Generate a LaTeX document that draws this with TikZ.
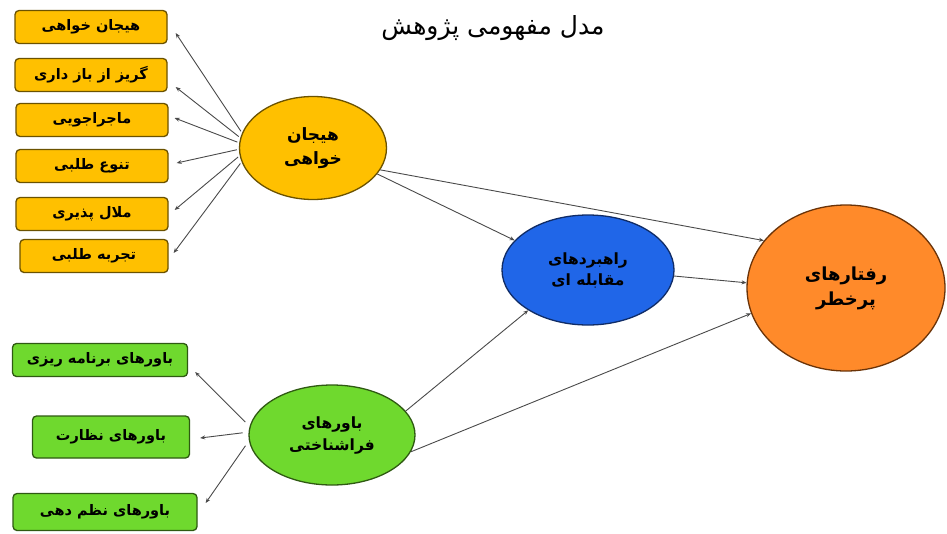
\documentclass[tikz,border=0pt]{standalone}
\usepackage{fontspec}
\TeXXeTstate=1
\newfontfamily\fa[Script=Arabic]{DejaVu Sans}
\usetikzlibrary{arrows.meta,shapes.geometric}
\definecolor{ybox}{HTML}{FFC000}
\definecolor{yline}{HTML}{6B5200}
\definecolor{gfill}{HTML}{6FD92E}
\definecolor{gline}{HTML}{2F5A12}
\definecolor{bfill}{HTML}{2066E8}
\definecolor{bline}{HTML}{102C66}
\definecolor{ofill}{HTML}{FF8A2A}
\definecolor{oline}{HTML}{6A3308}
\definecolor{conn}{HTML}{4A4A4A}
\tikzset{
  ybx/.style={draw=yline, line width=1.3pt, fill=ybox, rounded corners=4pt, minimum width=152pt, minimum height=33pt, inner sep=0pt, font=\fa\bfseries\fontsize{14.5}{16}\selectfont},
  gbx/.style={ybx, draw=gline, fill=gfill},
  ell/.style={ellipse, draw, line width=1.3pt, inner sep=0pt, align=center},
  cn/.style={draw=conn, line width=0.9pt, -{Stealth[length=5pt,width=4pt]}},
}
\begin{document}
\begin{tikzpicture}[x=1pt,y=-1pt]
\useasboundingbox (0,0) rectangle (947,533);
\fill[white] (0,0) rectangle (947,533);
\node[font=\fa\fontsize{25}{28}\selectfont] (title) at (493,28) {\beginR مدل مفهومی پژوهش\endR};
% yellow boxes
\node[ybx] (y1) at (91,27) {\beginR هیجان خواهی\endR};
\node[ybx] (y2) at (91,75) {\beginR گریز از باز داری\endR};
\node[ybx] (y3) at (92,120) {\beginR ماجراجویی\endR};
\node[ybx] (y4) at (92,166) {\beginR تنوع طلبی\endR};
\node[ybx] (y5) at (92,214) {\beginR ملال پذیری\endR};
\node[ybx, minimum width=148pt] (y6) at (94,256) {\beginR تجربه طلبی\endR};
% green boxes
\node[gbx, minimum width=175pt] (g1) at (100,360) {\beginR باورهای برنامه ریزی\endR};
\node[gbx, minimum width=157pt, minimum height=42pt] (g2) at (111,437) {\beginR باورهای نظارت\endR};
\node[gbx, minimum width=184pt, minimum height=37pt] (g3) at (105,512) {\beginR باورهای نظم دهی\endR};
% ellipses
\node[ell, fill=ybox, draw=yline, minimum width=147pt, minimum height=103pt, font=\fa\bfseries\fontsize{17}{24}\selectfont] (hy) at (313,148) {\beginR هیجان\endR\\\beginR خواهی\endR};
\node[ell, fill=bfill, draw=bline, minimum width=172pt, minimum height=110pt, font=\fa\bfseries\fontsize{15.5}{21}\selectfont] (bl) at (588,270) {\beginR راهبردهای\endR\\\beginR مقابله ای\endR};
\node[ell, fill=ofill, draw=oline, minimum width=198pt, minimum height=166pt, font=\fa\bfseries\fontsize{18}{25}\selectfont] (or) at (846,288) {\beginR رفتارهای\endR\\\beginR پرخطر\endR};
\node[ell, fill=gfill, draw=gline, minimum width=166pt, minimum height=100pt, font=\fa\bfseries\fontsize{15.5}{22}\selectfont] (gr) at (332,435) {\beginR باورهای\endR\\\beginR فراشناختی\endR};
% connectors yellow
\draw[cn, shorten <=2pt] (hy.168) -- ([xshift=8pt,yshift=-6pt]y1.east);
\draw[cn, shorten <=2pt] (hy.172) -- ([xshift=8pt,yshift=-12pt]y2.east);
\draw[cn, shorten <=2pt] (hy.176) -- ([xshift=6pt,yshift=2pt]y3.east);
\draw[cn, shorten <=2pt] (hy.181) -- ([xshift=8pt,yshift=3pt]y4.east);
\draw[cn, shorten <=2pt] (hy.186) -- ([xshift=6pt,yshift=4pt]y5.east);
\draw[cn, shorten <=2pt] (hy.191) -- ([xshift=5pt,yshift=3pt]y6.east);
% connectors green
\draw[cn, shorten <=6pt] (gr.174) -- ([xshift=7pt,yshift=-12pt]g1.east);
\draw[cn, shorten <=6pt] (gr.178) -- ([xshift=10pt,yshift=-1pt]g2.east);
\draw[cn, shorten <=6pt] (gr.184) -- ([xshift=8pt,yshift=9pt]g3.east);
% main connectors
\draw[cn] (hy.-22) -- (bl.158);
\draw[cn] (hy.-18) -- (or.150);
\draw[cn] (bl.-4) -- (or.177);
\draw[cn] (gr.18) -- (bl.214);
\draw[cn] (gr.-12) -- (or.195);
\end{tikzpicture}
\end{document}
